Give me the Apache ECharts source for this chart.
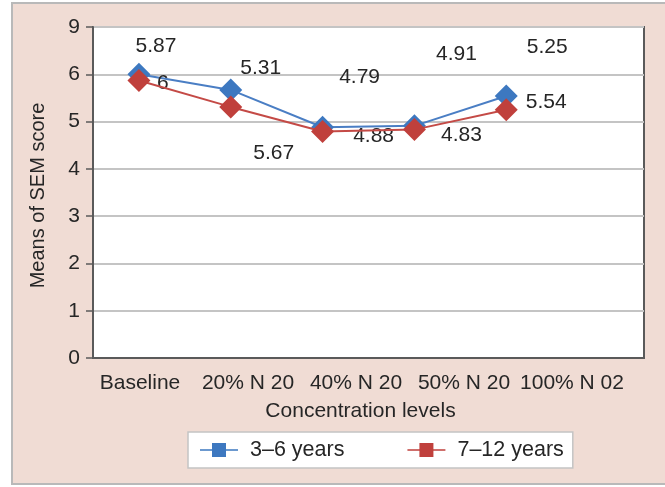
<!DOCTYPE html>
<html>
<head>
<meta charset="utf-8">
<title>Means of SEM score by concentration level</title>
<script src="https://cdn.jsdelivr.net/npm/echarts@6/dist/echarts.min.js"></script>
<style>
  html, body { margin: 0; padding: 0; background: #ffffff; }
  #frame {
    position: absolute; left: 11px; top: 2px; width: 660px; height: 479px;
    background: #f0dcd4; border-left: 2px solid #b9b9b9; border-top: 2px solid #b9b9b9;
    border-bottom: 2px solid #b9b9b9;
  }
  #chart { position: absolute; left: 0; top: 0; width: 665px; height: 487px; }
</style>
</head>
<body>
<div id="frame"></div>
<div id="chart"></div>
<script>
// Concentration levels along the x axis
const categories = ['Baseline', '20% N 20', '40% N 20', '50% N 20', '100% N 02'];
// Mean SEM scores per age group
const youngerScores = [6, 5.67, 4.88, 4.91, 5.54];   // 3–6 years
const olderScores = [5.87, 5.31, 4.79, 4.83, 5.25];  // 7–12 years
const seriesNames = ['3–6 years', '7–12 years'];
// Printed y tick labels (the top step is labelled 9)
const yTickLabels = ['0', '1', '2', '3', '4', '5', '6', '9'];

// Value-label placement relative to each marker, in pixels
const youngerLabelShift = [[24, 9], [43, 63], [51, 9], [42, -72], [40, 6]];
const olderLabelShift = [[17, -34], [30, -39], [37, -54], [47, 6], [41, -63]];

const FONT = '"Liberation Sans", Arial, sans-serif';
const BLUE = '#3d78c0';
const RED = '#c0403c';
const TEXT = '#262626';

function withLabels(values, shifts) {
  return values.map((v, i) => ({ value: v, label: { offset: shifts[i] } }));
}

// Legend glyph: a thin line with a square in the middle
const legendGlyph = 'path://M0,6.2L12,6.2L12,0L26,0L26,6.2L38,6.2L38,7.8L26,7.8L26,14L12,14L12,7.8L0,7.8Z';

const chart = echarts.init(document.getElementById('chart'), null, { renderer: 'canvas' });

chart.setOption({
  backgroundColor: 'transparent',
  animation: false,
  textStyle: { fontFamily: FONT, color: TEXT },
  grid: [
    {
      left: 93, right: 21, top: 27, bottom: 129,
      show: true, backgroundColor: '#ffffff', borderColor: '#5a5a5a', borderWidth: 2
    },
    { left: 86, right: 39, top: 27, bottom: 129, show: false }
  ],
  legend: {
    left: 188, top: 432,
    padding: [7, 9, 7, 12],
    itemGap: 63,
    itemWidth: 38, itemHeight: 14,
    backgroundColor: '#ffffff',
    borderColor: '#c4c4c4', borderWidth: 1.5,
    textStyle: { fontFamily: FONT, fontSize: 21.5, color: TEXT, padding: [0, 0, 0, 7] },
    data: [
      { name: seriesNames[0], icon: legendGlyph, itemStyle: { color: BLUE } },
      { name: seriesNames[1], icon: legendGlyph, itemStyle: { color: RED } }
    ]
  },
  xAxis: [
    {
      type: 'category',
      gridIndex: 0,
      data: categories.concat(['']),
      boundaryGap: true,
      axisLine: { show: true, lineStyle: { color: '#5a5a5a', width: 2 } },
      axisTick: { show: false },
      axisLabel: { show: false },
      splitLine: { show: false }
    },
    {
      type: 'category',
      gridIndex: 1,
      data: categories,
      boundaryGap: true,
      axisLine: { show: false },
      axisTick: { show: false },
      axisLabel: { show: true, interval: 0, margin: 15, fontSize: 21, color: TEXT, fontFamily: FONT },
      name: 'Concentration levels',
      nameLocation: 'middle',
      nameGap: 43,
      nameTextStyle: { fontSize: 21, color: TEXT, fontFamily: FONT, padding: [0, 0, 0, 9] }
    }
  ],
  yAxis: [
    {
      type: 'value',
      gridIndex: 0,
      min: 0, max: 7, interval: 1,
      axisLine: { show: true, lineStyle: { color: '#5a5a5a', width: 2 } },
      axisTick: { show: true, length: 7, lineStyle: { color: '#5a5a5a', width: 1.5 } },
      axisLabel: {
        margin: 13, fontSize: 21, color: TEXT, fontFamily: FONT,
        formatter: (v) => yTickLabels[Math.round(v)]
      },
      splitLine: { show: true, lineStyle: { color: '#c4c4c4', width: 2 } },
      name: 'Means of SEM score',
      nameLocation: 'middle',
      nameGap: 45,
      nameTextStyle: { fontSize: 20, color: TEXT, fontFamily: FONT, padding: [0, 6, 0, 0] }
    },
    { type: 'value', gridIndex: 1, min: 0, max: 7, show: false }
  ],
  series: [
    {
      name: seriesNames[0],
      type: 'line',
      xAxisIndex: 0, yAxisIndex: 0,
      data: withLabels(youngerScores, youngerLabelShift),
      symbol: 'diamond',
      symbolSize: 23,
      itemStyle: { color: BLUE },
      lineStyle: { color: '#4a7ec4', width: 2 },
      label: { show: true, position: 'inside', fontSize: 21, color: TEXT, fontFamily: FONT },
      z: 2
    },
    {
      name: seriesNames[1],
      type: 'line',
      xAxisIndex: 0, yAxisIndex: 0,
      data: withLabels(olderScores, olderLabelShift),
      symbol: 'diamond',
      symbolSize: 23,
      itemStyle: { color: RED },
      lineStyle: { color: '#c44a46', width: 2 },
      label: { show: true, position: 'inside', fontSize: 21, color: TEXT, fontFamily: FONT },
      z: 3
    }
  ]
});
</script>
</body>
</html>
